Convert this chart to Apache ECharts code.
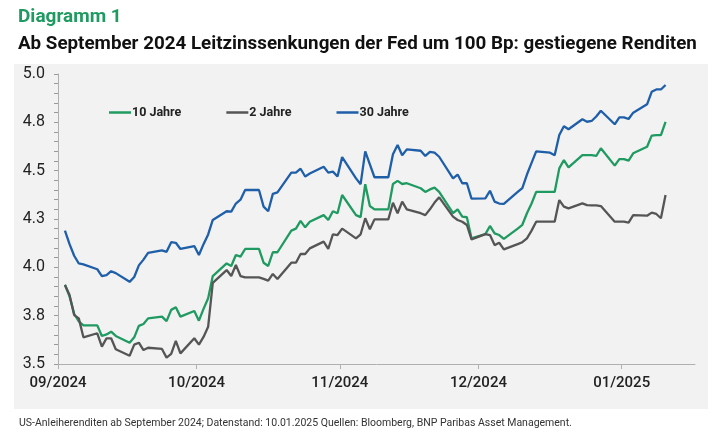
<!DOCTYPE html>
<html>
<head>
<meta charset="utf-8">
<script src="https://cdn.jsdelivr.net/npm/echarts@6/dist/echarts.min.js"></script>
<style>
  html, body { margin: 0; padding: 0; background: #fff; }
  #main { width: 725px; height: 435px; }
</style>
</head>
<body>
<div id="main"></div>
<script>
// Handelstage (US-Treasuries), Datenstand 10.01.2025
var dates = [
  '2024-09-02','2024-09-03','2024-09-04','2024-09-05','2024-09-06',
  '2024-09-09','2024-09-10','2024-09-11','2024-09-12','2024-09-13',
  '2024-09-16','2024-09-17','2024-09-18','2024-09-19','2024-09-20',
  '2024-09-23','2024-09-24','2024-09-25','2024-09-26','2024-09-27',
  '2024-09-30',
  '2024-10-01','2024-10-02','2024-10-03','2024-10-04',
  '2024-10-07','2024-10-08','2024-10-09','2024-10-10','2024-10-11',
  '2024-10-14','2024-10-15','2024-10-16','2024-10-17','2024-10-18',
  '2024-10-21','2024-10-22','2024-10-23','2024-10-24','2024-10-25',
  '2024-10-28','2024-10-29','2024-10-30','2024-10-31',
  '2024-11-01',
  '2024-11-04','2024-11-05','2024-11-06','2024-11-07','2024-11-08',
  '2024-11-11','2024-11-12','2024-11-13','2024-11-14','2024-11-15',
  '2024-11-18','2024-11-19','2024-11-20','2024-11-21','2024-11-22',
  '2024-11-25','2024-11-26','2024-11-27','2024-11-28','2024-11-29',
  '2024-12-02','2024-12-03','2024-12-04','2024-12-05','2024-12-06',
  '2024-12-09','2024-12-10','2024-12-11','2024-12-12','2024-12-13',
  '2024-12-16','2024-12-17','2024-12-18','2024-12-19','2024-12-20',
  '2024-12-23','2024-12-24','2024-12-25','2024-12-26','2024-12-27',
  '2024-12-30','2024-12-31',
  '2025-01-01','2025-01-02','2025-01-03',
  '2025-01-06','2025-01-07','2025-01-08','2025-01-09','2025-01-10'
];

var y10 = [
  3.91, 3.85, 3.76, 3.72, 3.70, 3.70, 3.645, 3.653, 3.667, 3.645, 3.61, 3.638, 3.697, 3.707, 3.736, 3.745, 3.722, 3.78, 3.793, 3.745, 3.774,
  3.724, 3.785, 3.84, 3.955, 4.02, 4.007, 4.064, 4.055, 4.095, 4.095, 4.024, 4.007, 4.078, 4.078, 4.19, 4.20, 4.24, 4.207, 4.236, 4.27, 4.245, 4.29, 4.28,
  4.374, 4.27, 4.26, 4.43, 4.317, 4.30, 4.30, 4.431, 4.447, 4.431, 4.435, 4.409, 4.39, 4.403, 4.412, 4.39, 4.28, 4.30, 4.262, 4.259, 4.15,
  4.172, 4.214, 4.176, 4.167, 4.147, 4.20, 4.22, 4.28, 4.33, 4.39, 4.39, 4.39, 4.512, 4.555, 4.517, 4.58, 4.58, 4.58, 4.576, 4.616, 4.526, 4.56,
  4.56, 4.552, 4.59, 4.624, 4.681, 4.684, 4.684, 4.753
];

var y2 = [
  3.909, 3.857, 3.753, 3.736, 3.638, 3.659, 3.59, 3.633, 3.633, 3.576, 3.543, 3.60, 3.61, 3.572, 3.584, 3.578, 3.533, 3.552, 3.62, 3.555, 3.633,
  3.60, 3.64, 3.693, 3.92, 3.986, 3.955, 4.012, 3.955, 3.948, 3.948, 3.94, 3.931, 3.966, 3.94, 4.024, 4.024, 4.069, 4.069, 4.098, 4.133, 4.095, 4.171, 4.167,
  4.20, 4.15, 4.171, 4.254, 4.197, 4.248, 4.248, 4.334, 4.28, 4.34, 4.30, 4.28, 4.27, 4.30, 4.335, 4.362, 4.262, 4.245, 4.236, 4.219, 4.145,
  4.172, 4.167, 4.115, 4.127, 4.093, 4.12, 4.13, 4.15, 4.19, 4.236, 4.236, 4.236, 4.348, 4.314, 4.305, 4.331, 4.322, 4.32, 4.32, 4.317, 4.236, 4.236,
  4.236, 4.231, 4.27, 4.267, 4.283, 4.276, 4.254, 4.374
];

var y30 = [
  4.19, 4.12, 4.06, 4.02, 4.015, 3.99, 3.955, 3.96, 3.98, 3.97, 3.925, 3.95, 4.01, 4.04, 4.075, 4.088, 4.08, 4.13, 4.127, 4.095, 4.11,
  4.064, 4.12, 4.17, 4.245, 4.29, 4.288, 4.33, 4.35, 4.40, 4.40, 4.314, 4.29, 4.38, 4.388, 4.49, 4.49, 4.51, 4.47, 4.485, 4.52, 4.49, 4.495, 4.47,
  4.57, 4.46, 4.43, 4.60, 4.533, 4.466, 4.466, 4.585, 4.633, 4.58, 4.61, 4.603, 4.576, 4.597, 4.593, 4.572, 4.46, 4.48, 4.435, 4.435, 4.355,
  4.357, 4.396, 4.34, 4.33, 4.328, 4.39, 4.41, 4.48, 4.54, 4.60, 4.593, 4.58, 4.684, 4.73, 4.714, 4.766, 4.753, 4.757, 4.78, 4.81, 4.74, 4.776,
  4.776, 4.767, 4.80, 4.843, 4.908, 4.92, 4.92, 4.943
];

var names = ['10 Jahre', '2 Jahre', '30 Jahre'];
var colors = ['#1f9a60', '#555555', '#1f5ea8'];

function pairs(vals) {
  return dates.map(function (d, i) { return [d + 'T12:00:00', vals[i]]; });
}

var myChart = echarts.init(document.getElementById('main'));
var font = 'Roboto, "Noto Sans", sans-serif';

myChart.setOption({
  backgroundColor: '#ffffff',
  textStyle: { fontFamily: font },
  graphic: [{
    type: 'rect',
    z: -10,
    silent: true,
    shape: { x: 14, y: 64, width: 694, height: 345 },
    style: { fill: '#f2f2f2' }
  }],
  title: [
    { text: 'Diagramm 1', left: 13, top: 3,
      textStyle: { color: '#1f9a60', fontSize: 19, fontWeight: 'bold', fontFamily: font } },
    { text: 'Ab September 2024 Leitzinssenkungen der Fed um 100 Bp: gestiegene Renditen', left: 13, top: 30,
      textStyle: { color: '#111', fontSize: 18.8, fontWeight: 'bold', fontFamily: font } },
    { text: 'US-Anleiherenditen ab September 2024; Datenstand: 10.01.2025 Quellen: Bloomberg, BNP Paribas Asset Management.',
      left: 14, top: 413,
      textStyle: { color: '#333', fontSize: 10.5, fontWeight: 'normal', fontFamily: font } }
  ],
  legend: {
    left: 104, top: 101,
    itemWidth: 22, itemHeight: 2.5, itemGap: 45,
    icon: 'rect',
    textStyle: { fontSize: 12.5, fontWeight: 'bold', color: '#222', padding: [0, 0, 0, -4] },
    data: names
  },
  grid: { left: 58, right: 30, top: 74, bottom: 71 },
  xAxis: {
    type: 'time',
    min: '2024-09-01',
    max: '2025-01-16T21:00:00',
    splitNumber: 5,
    axisLine: { lineStyle: { color: '#b0b0b0' } },
    axisTick: { show: true, length: 5, lineStyle: { color: '#b0b0b0' } },
    splitLine: { show: false },
    axisLabel: {
      fontSize: 15, fontWeight: 500, color: '#222', margin: 12,
      formatter: function (v) { return echarts.time.format(v, '{MM}/{yyyy}', false); }
    }
  },
  yAxis: {
    type: 'value',
    min: 3.5, max: 5.0, interval: 0.25,
    axisLine: { show: true, lineStyle: { color: '#b0b0b0' } },
    axisTick: { show: true, length: 4, lineStyle: { color: '#999' } },
    minorTick: { show: true, splitNumber: 5, length: 4, lineStyle: { color: '#999' } },
    splitLine: { show: false },
    axisLabel: {
      fontSize: 16, color: '#222', margin: 13,
      formatter: function (v) { return v.toFixed(1); }
    }
  },
  series: [
    { name: names[0], type: 'line', data: pairs(y10), showSymbol: false, color: colors[0],
      lineStyle: { width: 2.3 } },
    { name: names[1], type: 'line', data: pairs(y2), showSymbol: false, color: colors[1],
      lineStyle: { width: 2.3 } },
    { name: names[2], type: 'line', data: pairs(y30), showSymbol: false, color: colors[2],
      lineStyle: { width: 2.3 } }
  ]
});
</script>
</body>
</html>
